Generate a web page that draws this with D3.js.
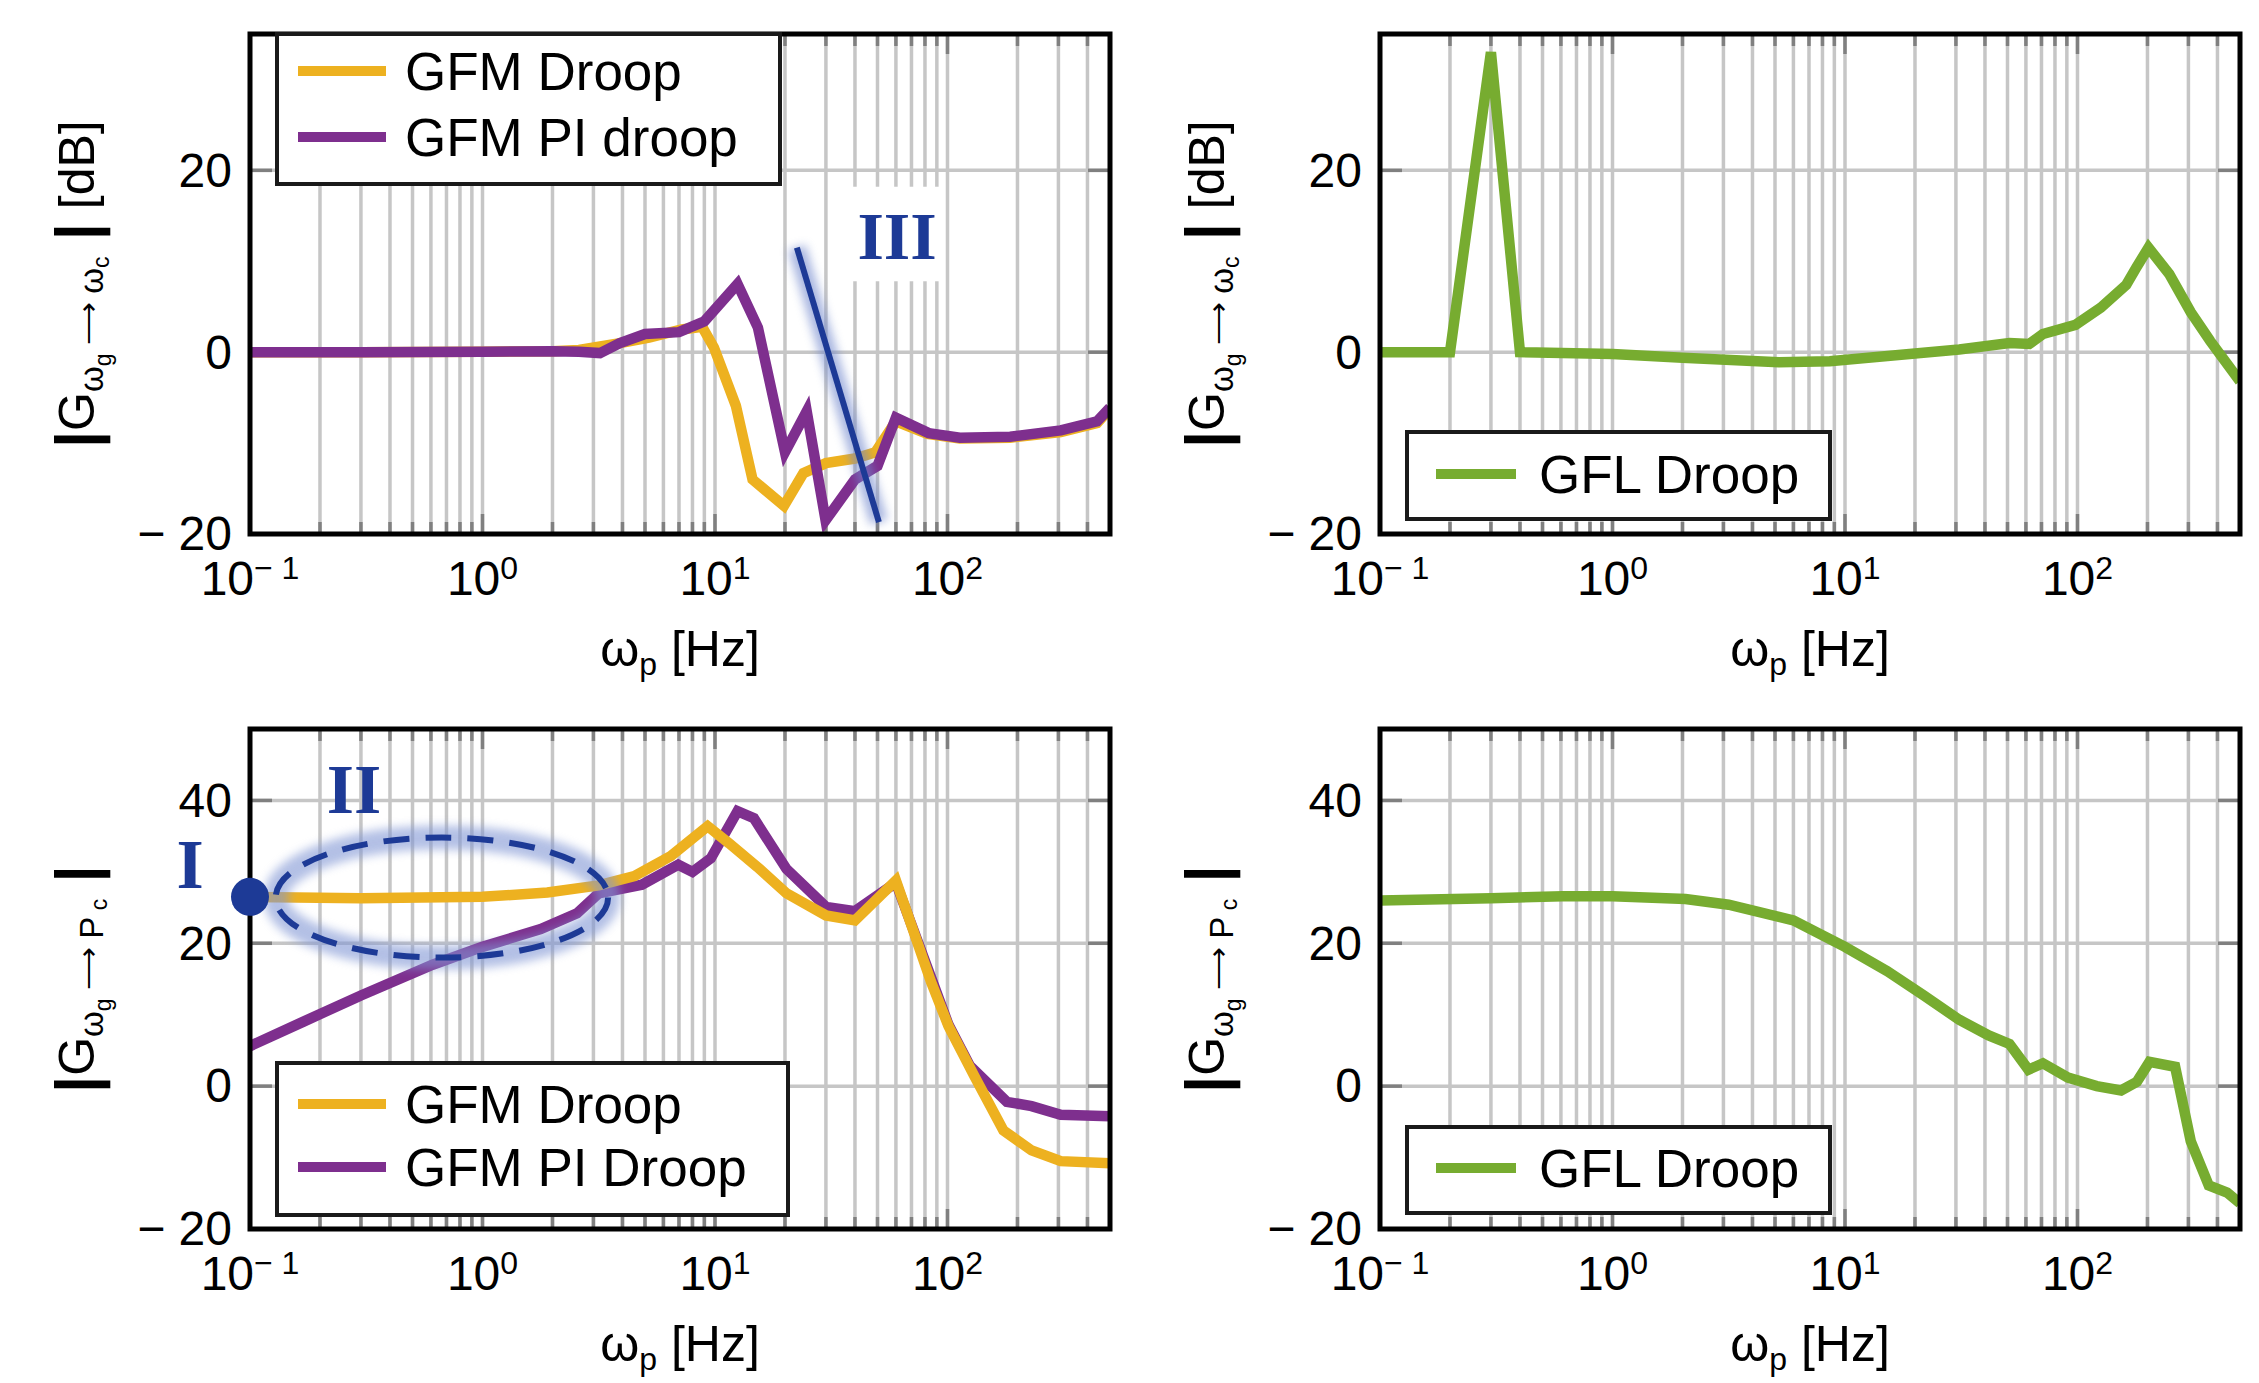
<!DOCTYPE html>
<html>
<head>
<meta charset="utf-8">
<script src="https://cdn.jsdelivr.net/npm/d3@7"></script>
<style>
  body { margin: 0; background: #fff; }
  text { font-family: "Liberation Sans", Arial, sans-serif; fill: #000; }
</style>
</head>
<body>
<svg id="chart" width="2259" height="1383"></svg>
<script>
// ---- data ----
const xTickValues = [0.1, 1, 10, 100];
const xTickExps = ['\u2212 1', '0', '1', '2'];

// top left: |G wg->wc| [dB]
const freqTLDroop = [0.1, 0.3, 1, 2, 2.6, 3.9, 5.2, 7.2, 8.8, 9.9, 12.3, 14.5, 19.8, 24, 30, 40, 49, 60, 82, 113, 186, 307, 440, 500];
const magTLDroop  = [0, 0, 0.05, 0.1, 0.25, 1.0, 1.6, 2.5, 2.8, 0.5, -5.9, -14, -16.9, -13.3, -12.2, -11.7, -11, -7.6, -9, -9.5, -9.4, -8.8, -7.8, -6.2];
const freqTLPI = [0.1, 0.3, 1, 2, 2.6, 3.2, 3.9, 5, 7, 9, 12.5, 15.3, 20, 24.8, 29.9, 40, 50, 60, 83, 113, 186, 307, 440, 500];
const magTLPI  = [0, 0, 0.05, 0.1, 0.05, -0.1, 1, 2, 2.2, 3.4, 7.5, 2.7, -11, -6.5, -18.5, -14, -12.5, -7.2, -8.9, -9.4, -9.3, -8.6, -7.6, -6.1];

// top right
const freqTRGfl = [0.1, 0.2, 0.3, 0.4, 1, 2, 5.2, 8.6, 20, 31, 51, 62, 71, 98, 126, 162, 179, 202, 248, 307, 373, 500];
const magTRGfl  = [0, 0, 33, 0, -0.2, -0.6, -1.1, -1.0, -0.15, 0.3, 1.0, 0.9, 2, 3, 4.9, 7.4, 9.3, 11.5, 8.6, 4.4, 1.2, -3.2];

// bottom left: |G wg->Pc|
const freqBLDroop = [0.1, 0.3, 1, 1.9, 3.16, 4.5, 6.45, 9.3, 11.5, 15.2, 20.3, 30, 40, 60, 85, 101, 130, 174, 230, 307, 500];
const magBLDroop  = [26.5, 26.3, 26.5, 27.1, 28.1, 29.4, 32.2, 36.4, 34, 30.7, 27, 23.9, 23.2, 28.8, 14.6, 8.4, 1.5, -6.2, -9, -10.5, -10.8];
const freqBLPI = [0.1, 0.169, 0.3, 0.61, 1, 1.78, 2.55, 3.16, 4.85, 6.95, 8, 9.6, 12.5, 14.7, 20.3, 30, 40, 60, 85, 101, 125, 180, 230, 307, 500];
const magBLPI  = [5.6, 9, 12.7, 17, 19.5, 22, 24.2, 27, 28.2, 31, 30, 31.9, 38.5, 37.5, 30.4, 25.1, 24.5, 28.5, 15.2, 8.6, 2.8, -2.2, -2.8, -4.0, -4.2];

// bottom right
const freqBRGfl = [0.1, 0.3, 0.61, 1, 2.06, 3.16, 6, 10, 15.2, 21.8, 31, 41.5, 51, 61.5, 71, 91, 121, 154, 180, 204, 263, 307, 367, 440, 500];
const magBRGfl  = [26.0, 26.3, 26.6, 26.6, 26.2, 25.4, 23.2, 19.5, 16.1, 12.7, 9.3, 7.1, 5.9, 2.3, 3.2, 1.2, 0, -0.6, 0.6, 3.4, 2.7, -7.7, -13.9, -14.9, -16.4];

const colDroop = '#EDB120', colPI = '#7E2F8E', colGfl = '#77AC30', colBlue = '#1d3a96';

// ---- layout ----
const W = 860, H = 500;
const xDomain = [0.1, 500];
const svg = d3.select('#chart');
const defs = svg.append('defs');

defs.append('filter').attr('id', 'blur')
    .attr('x', '-30%').attr('y', '-30%').attr('width', '160%').attr('height', '160%')
    .append('feGaussianBlur').attr('stdDeviation', 5);

const pairs = (f, m) => f.map((d, i) => [d, m[i]]);

function yTitle(g, cx, cy, parts) {
    const t = g.append('text')
        .attr('transform', `translate(${cx},${cy}) rotate(-90)`)
        .attr('text-anchor', 'middle');
    let cur = 0;
    parts.forEach(p => {
        const off = p.off || 0;
        t.append('tspan')
            .attr('font-size', p.s)
            .attr('font-weight', p.bar ? 'bold' : null)
            .attr('dy', off - cur)
            .text(p.t);
        cur = off;
    });
}

function drawPanel(p) {
    const g = svg.append('g').attr('transform', `translate(${p.x},${p.y})`);
    const x = d3.scaleLog().domain(xDomain).range([0, W]);
    const y = d3.scaleLinear().domain(p.yDomain).range([H, 0]);

    defs.append('clipPath').attr('id', p.id)
        .append('rect').attr('width', W).attr('height', H);

    // grid
    const minor = x.ticks().filter(v => v > xDomain[0] * 1.01 && v < xDomain[1] * 0.99);
    g.selectAll('.vgrid').data(minor).enter().append('line')
        .attr('x1', d => x(d)).attr('x2', d => x(d))
        .attr('y1', 0).attr('y2', H)
        .attr('stroke', '#c6c6c6').attr('stroke-width', 3.5);
    g.selectAll('.hgrid').data(p.yTicks).enter().append('line')
        .attr('x1', 0).attr('x2', W)
        .attr('y1', d => y(d)).attr('y2', d => y(d))
        .attr('stroke', '#c6c6c6').attr('stroke-width', 3.5);

    // inward ticks
    const isMajor = v => xTickValues.some(m => Math.abs(m - v) / m < 1e-6);
    [0, H].forEach(edge => {
        const dir = edge === 0 ? 1 : -1;
        g.selectAll(null).data(minor).enter().append('line')
            .attr('x1', d => x(d)).attr('x2', d => x(d))
            .attr('y1', edge).attr('y2', d => edge + dir * (isMajor(d) ? 20 : 12))
            .attr('stroke', '#808080').attr('stroke-width', 3.5);
    });
    [0, W].forEach(edge => {
        const dir = edge === 0 ? 1 : -1;
        g.selectAll(null).data(p.yTicks).enter().append('line')
            .attr('x1', edge).attr('x2', edge + dir * 22)
            .attr('y1', d => y(d)).attr('y2', d => y(d))
            .attr('stroke', '#808080').attr('stroke-width', 3.5);
    });

    // curves
    const line = d3.line().x(d => x(d[0])).y(d => y(d[1]));
    const plot = g.append('g').attr('clip-path', `url(#${p.id})`);
    p.series.forEach(s => {
        plot.append('path')
            .datum(pairs(s.f, s.m))
            .attr('d', line)
            .attr('fill', 'none')
            .attr('stroke', s.color)
            .attr('stroke-width', 10.5)
            .attr('stroke-linejoin', 'miter');
    });

    // frame
    g.append('rect').attr('width', W).attr('height', H)
        .attr('fill', 'none').attr('stroke', '#000').attr('stroke-width', 5);

    // tick labels
    g.selectAll('.ylab').data(p.yTicks).enter().append('text')
        .attr('x', -18).attr('y', d => y(d)).attr('dy', '0.34em')
        .attr('text-anchor', 'end').attr('font-size', 48)
        .text(d => d < 0 ? '\u2212 ' + Math.abs(d) : d);

    xTickValues.forEach((v, i) => {
        const t = g.append('text')
            .attr('x', x(v)).attr('y', H + 61)
            .attr('text-anchor', 'middle').attr('font-size', 48);
        t.append('tspan').text('10');
        t.append('tspan').attr('font-size', 32).attr('dy', -16).text(xTickExps[i]);
    });

    // x title
    const xt = g.append('text')
        .attr('x', W / 2).attr('y', H + 132)
        .attr('text-anchor', 'middle').attr('font-size', 50);
    xt.append('tspan').text('\u03c9');
    xt.append('tspan').attr('font-size', 32).attr('dy', 9).text('p');
    xt.append('tspan').attr('dy', -9).text(' [Hz]');

    yTitle(g, -156, H / 2, p.yParts);

    // legend
    const L = p.legend;
    const lg = g.append('g');
    lg.append('rect')
        .attr('x', L.x).attr('y', L.y).attr('width', L.w).attr('height', L.h)
        .attr('fill', '#fff').attr('stroke', '#1a1a1a').attr('stroke-width', 4);
    L.rows.forEach(r => {
        lg.append('line')
            .attr('x1', L.x + L.l1).attr('x2', L.x + L.l2)
            .attr('y1', L.y + r.dy).attr('y2', L.y + r.dy)
            .attr('stroke', r.color).attr('stroke-width', 10);
        lg.append('text')
            .attr('x', L.x + L.tx).attr('y', L.y + r.dy).attr('dy', '0.36em')
            .attr('font-size', 53).text(r.label);
    });

    return {g, x, y};
}

const partsOmega = [
    {t: '|', s: 60, bar: true, off: 3}, {t: 'G', s: 50, off: 0},
    {t: '\u03c9', s: 33, off: 9}, {t: 'g', s: 23, off: 17},
    {t: ' \u27f6 ', s: 30, off: 4},
    {t: '\u03c9', s: 33, off: 9}, {t: 'c', s: 23, off: 15},
    {t: '  |', s: 60, bar: true, off: 3}, {t: '  [dB]', s: 50, off: 0}
];
const partsPower = [
    {t: '|', s: 60, bar: true, off: 3}, {t: 'G', s: 50, off: 0},
    {t: '\u03c9', s: 33, off: 9}, {t: 'g', s: 23, off: 17},
    {t: ' \u27f6 ', s: 30, off: 4},
    {t: 'P', s: 33, off: 9}, {t: ' c', s: 23, off: 13},
    {t: '   |', s: 60, bar: true, off: 3}
];

const tl = drawPanel({
    id: 'clipTL', x: 250, y: 34, yDomain: [-20, 35], yTicks: [-20, 0, 20], yParts: partsOmega,
    series: [
        {f: freqTLDroop, m: magTLDroop, color: colDroop},
        {f: freqTLPI, m: magTLPI, color: colPI}
    ],
    legend: {x: 27, y: 0, w: 503, h: 150, l1: 21, l2: 109, tx: 128,
        rows: [{label: 'GFM Droop', color: colDroop, dy: 37}, {label: 'GFM PI droop', color: colPI, dy: 103}]}
});

drawPanel({
    id: 'clipTR', x: 1380, y: 34, yDomain: [-20, 35], yTicks: [-20, 0, 20], yParts: partsOmega,
    series: [{f: freqTRGfl, m: magTRGfl, color: colGfl}],
    legend: {x: 27, y: 398, w: 423, h: 87, l1: 29, l2: 109, tx: 132,
        rows: [{label: 'GFL Droop', color: colGfl, dy: 42}]}
});

const bl = drawPanel({
    id: 'clipBL', x: 250, y: 729, yDomain: [-20, 50], yTicks: [-20, 0, 20, 40], yParts: partsPower,
    series: [
        {f: freqBLPI, m: magBLPI, color: colPI},
        {f: freqBLDroop, m: magBLDroop, color: colDroop}
    ],
    legend: {x: 27, y: 334, w: 511, h: 152, l1: 21, l2: 109, tx: 128,
        rows: [{label: 'GFM Droop', color: colDroop, dy: 41}, {label: 'GFM PI Droop', color: colPI, dy: 104}]}
});

drawPanel({
    id: 'clipBR', x: 1380, y: 729, yDomain: [-20, 50], yTicks: [-20, 0, 20, 40], yParts: partsPower,
    series: [{f: freqBRGfl, m: magBRGfl, color: colGfl}],
    legend: {x: 27, y: 398, w: 423, h: 86, l1: 29, l2: 109, tx: 132,
        rows: [{label: 'GFL Droop', color: colGfl, dy: 41}]}
});

// ---- annotations ----
// III : white patch, label and slanted marker line (data coordinates of the top-left panel)
const boxIII = {f: [38, 96.6], m: [18.2, 7.8]};
const lineIII = [[22.5, 11.5], [50.7, -18.7]];

tl.g.append('rect')
    .attr('x', tl.x(boxIII.f[0])).attr('y', tl.y(boxIII.m[0]))
    .attr('width', tl.x(boxIII.f[1]) - tl.x(boxIII.f[0]))
    .attr('height', tl.y(boxIII.m[1]) - tl.y(boxIII.m[0]))
    .attr('fill', '#fff');
tl.g.append('text')
    .attr('x', tl.x(60.7)).attr('y', tl.y(10.25))
    .attr('text-anchor', 'middle')
    .style('font-family', '"Liberation Serif", "Times New Roman", serif')
    .style('font-weight', 'bold').style('fill', colBlue)
    .attr('font-size', 68).text('III');
const blueLine = d3.line().x(d => tl.x(d[0])).y(d => tl.y(d[1]));
tl.g.append('path').datum(lineIII).attr('d', blueLine)
    .attr('stroke', '#6f86cc').attr('stroke-width', 18).attr('opacity', 0.6)
    .attr('filter', 'url(#blur)');
tl.g.append('path').datum(lineIII).attr('d', blueLine)
    .attr('stroke', colBlue).attr('stroke-width', 6);

// I and II in the bottom-left panel
const ellF = [0.129, 3.47], ellM = [18.0, 34.8];
const ecx = (bl.x(ellF[0]) + bl.x(ellF[1])) / 2, ecy = (bl.y(ellM[0]) + bl.y(ellM[1])) / 2;
const erx = (bl.x(ellF[1]) - bl.x(ellF[0])) / 2, ery = (bl.y(ellM[0]) - bl.y(ellM[1])) / 2;
bl.g.append('ellipse')
    .attr('cx', ecx).attr('cy', ecy).attr('rx', erx).attr('ry', ery)
    .attr('fill', 'none').attr('stroke', '#8196d4').attr('stroke-width', 24)
    .attr('opacity', 0.6).attr('filter', 'url(#blur)');
bl.g.append('ellipse')
    .attr('cx', ecx).attr('cy', ecy).attr('rx', erx).attr('ry', ery)
    .attr('fill', 'none').attr('stroke', colBlue).attr('stroke-width', 6)
    .attr('stroke-dasharray', '26 16');

bl.g.append('circle')
    .attr('cx', bl.x(0.1)).attr('cy', bl.y(26.5)).attr('r', 19)
    .attr('fill', colBlue);

bl.g.selectAll('.roman').data([{t: 'I', f: 0.0552, m: 27.7}, {t: 'II', f: 0.28, m: 38.2}])
    .enter().append('text')
    .attr('x', d => bl.x(d.f)).attr('y', d => bl.y(d.m))
    .attr('text-anchor', 'middle')
    .style('font-family', '"Liberation Serif", "Times New Roman", serif')
    .style('font-weight', 'bold').style('fill', colBlue)
    .attr('font-size', 70).text(d => d.t);
</script>
</body>
</html>
